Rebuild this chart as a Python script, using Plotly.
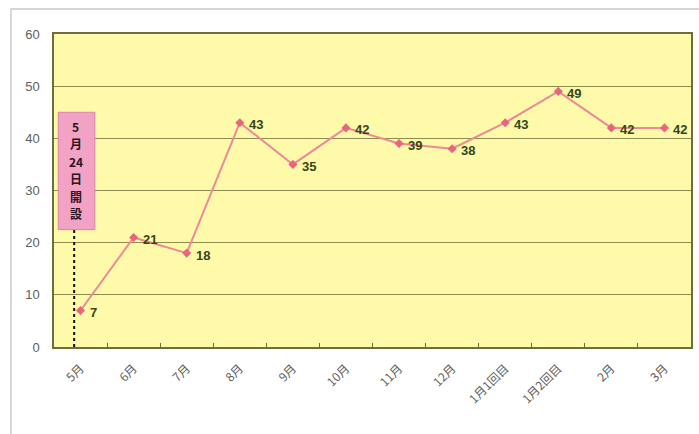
import plotly.graph_objects as go

# Monthly counts
months = ["5月", "6月", "7月", "8月", "9月", "10月", "11月", "12月",
          "1月1回目", "1月2回目", "2月", "3月"]
counts = [7, 21, 18, 43, 35, 42, 39, 38, 43, 49, 42, 42]

y_ticks = [0, 10, 20, 30, 40, 50, 60]
opening_note = ["5", "月", "24", "日", "開", "設"]

fig = go.Figure()

fig.add_trace(go.Scatter(
    x=months,
    y=counts,
    mode="lines+markers",
    line=dict(color="#ec8a96", width=2),
    marker=dict(symbol="diamond", size=7, color="#e8647f"),
    hoverinfo="skip",
))

# Value labels to the right of each point
for m, v in zip(months, counts):
    fig.add_annotation(
        x=m, y=v, xref="x", yref="y",
        text=str(v), showarrow=False,
        xanchor="left", yanchor="middle", xshift=7, yshift=-2,
        font=dict(family="Liberation Sans, Arial, sans-serif", size=13,
                  color="#34461a", weight="bold"),
    )

# Opening-date marker: dotted guide line and label box
fig.add_shape(type="line", xref="x", yref="y", x0=-0.12, x1=-0.12, y0=0, y1=22.5,
              line=dict(color="#111111", width=2, dash="dot"), layer="above")
fig.add_shape(type="rect", xref="x", yref="y", x0=-0.42, x1=0.27, y0=22.5, y1=45,
              fillcolor="#f2a2c4", line=dict(color="#dc84a6", width=1), layer="above")
note_top, note_step = 42.3, 3.35
for i, ch in enumerate(opening_note):
    fig.add_annotation(
        x=-0.09, y=note_top - i * note_step, xref="x", yref="y",
        text=ch, showarrow=False,
        font=dict(family="Noto Sans CJK JP, sans-serif", size=12, color="#2a1420",
                  weight="bold"),
        borderpad=0,
    )

# Outer frame around the chart
fig.add_shape(type="rect", xref="paper", yref="paper",
              x0=-0.0675, x1=1.2, y0=-0.5, y1=1.0795,
              line=dict(color="#c9c9c9", width=1.5), fillcolor="rgba(0,0,0,0)",
              layer="below")

fig.update_layout(
    width=699,
    height=434,
    margin=dict(l=54, r=6, t=34, b=87),
    paper_bgcolor="white",
    plot_bgcolor="#fefaaa",
    showlegend=False,
    xaxis=dict(
        type="category",
        tickangle=-45,
        tickson="boundaries",
        ticks="inside",
        ticklen=4,
        tickcolor="#6d6d40",
        tickfont=dict(family="Noto Sans CJK JP, sans-serif", size=12, color="#5e5e5e"),
        ticklabelstandoff=8,
        showgrid=False,
        showline=True,
        linecolor="#6d6d40",
        linewidth=1.5,
        mirror=True,
        range=[-0.5, 11.5],
    ),
    yaxis=dict(
        range=[0, 60],
        tickvals=y_ticks,
        tickfont=dict(family="Liberation Sans, Arial, sans-serif", size=13, color="#5e5e5e"),
        ticklabelstandoff=10,
        showgrid=True,
        gridcolor="#8c8c50",
        gridwidth=1,
        showline=True,
        linecolor="#6d6d40",
        linewidth=1.5,
        mirror=True,
        zeroline=False,
    ),
)

fig.write_html("out.html")
